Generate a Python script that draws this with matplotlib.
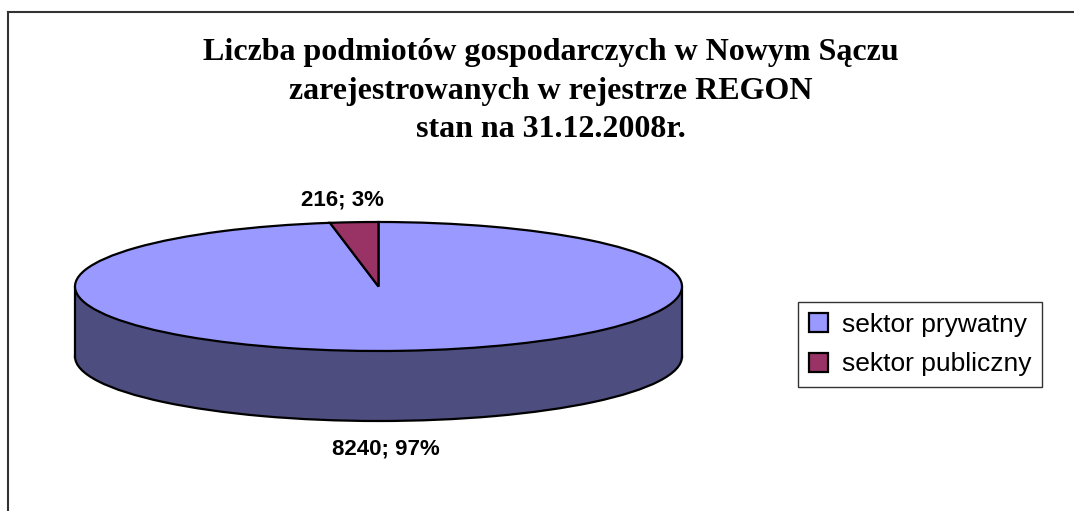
import matplotlib
matplotlib.use("Agg")
import matplotlib.pyplot as plt
from matplotlib.patches import Rectangle
from matplotlib.lines import Line2D

# data
labels = ["sektor prywatny", "sektor publiczny"]
values = [8240, 216]
shares = ["97%", "3%"]
top_colors = ["#9999FF", "#993366"]
side_color = "#4D4D80"

title = ("Liczba podmiotów gospodarczych w Nowym Sączu\n"
         "zarejestrowanych w rejestrze REGON\n"
         "stan na 31.12.2008r.")

W, H = 1074, 511
fig = plt.figure(figsize=(W / 100, H / 100), dpi=100)

# outer frame (right/bottom run off the picture)
fig.add_artist(Line2D([8 / W, 8 / W], [0, 1 - 12 / H], color="#333333", lw=1.5))
fig.add_artist(Line2D([8 / W, 1], [1 - 12 / H, 1 - 12 / H], color="#333333", lw=1.5))

fig.text(551 / W, 1 - 91 / H, title, ha="center", va="center",
         family="Liberation Serif", weight="bold", fontsize=23, linespacing=1.42)

# pie axes: ellipse centre (378.5, 286.5) px, rx 303.5 px, ry 64.5 px
cx, cy, rx, ry = 378.5, 286.5, 303.5, 64.5
d = 70 / ry          # depth of the cylinder in y units
xl, yt, yb = 1.05, 1.12, d + 1.12
ax = fig.add_axes([(cx - xl * rx) / W, (H - (cy + yb * ry)) / H,
                   2 * xl * rx / W, (yt + yb) * ry / H])

edge = dict(edgecolor="black", linewidth=1.6)
# bottom of cylinder (one full disc, no radial edges)
ax.pie([sum(values)], colors=[side_color], startangle=90, counterclock=False,
       center=(0, -d), wedgeprops=edge)
ax.add_patch(Rectangle((-1, -d), 2, d, facecolor=side_color, edgecolor="none", zorder=2))
ax.plot([-1, -1], [-d, 0], color="black", lw=1.6, zorder=2.5)
ax.plot([1, 1], [-d, 0], color="black", lw=1.6, zorder=2.5)
# top face
wedges, _ = ax.pie(values, colors=top_colors, startangle=90, counterclock=False,
                   wedgeprops=edge)
for w in wedges:
    w.set_zorder(3)
ax.set_aspect("auto")
ax.set_xlim(-xl, xl)
ax.set_ylim(-yb, yt)
ax.axis("off")

# data labels
lab_font = dict(family="Liberation Sans", weight="bold", fontsize=16, ha="center", va="center")
fig.text(342 / W, 1 - 200 / H, f"{values[1]}; {shares[1]}", **lab_font)
fig.text(386 / W, 1 - 449 / H, f"{values[0]}; {shares[0]}", **lab_font)

leg = fig.legend(wedges, labels, loc="upper left", bbox_to_anchor=(798 / W, 1 - 302 / H),
                 frameon=True, fancybox=False, edgecolor="black",
                 prop=dict(family="Liberation Sans", size=19),
                 handlelength=0.75, handleheight=0.75, handletextpad=0.5,
                 borderpad=0.4, labelspacing=0.6, borderaxespad=0)
leg.get_frame().set_linewidth(1.0)

fig.savefig("out.png", dpi=100)
